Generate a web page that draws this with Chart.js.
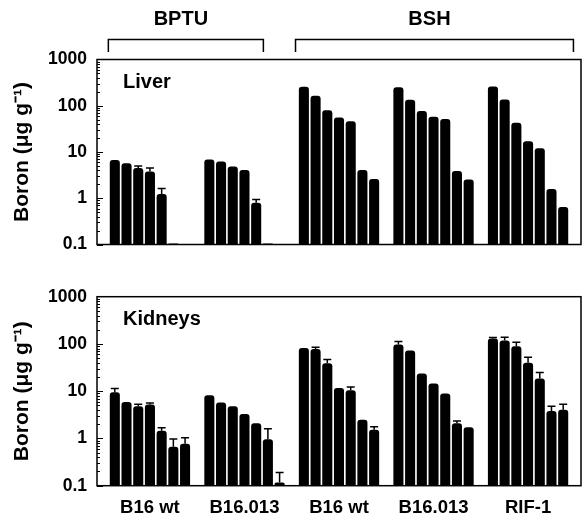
<!DOCTYPE html>
<html>
<head>
<meta charset="utf-8">
<script src="https://cdn.jsdelivr.net/npm/chart.js@4.4.1/dist/chart.umd.min.js"></script>
<style>
  html, body { margin: 0; padding: 0; background: #fff; }
  #wrap { position: relative; width: 585px; height: 516px; }
  canvas { position: absolute; left: 0; }
</style>
</head>
<body>
<div id="wrap">
  <canvas id="liver" width="585" height="265" style="top:0"></canvas>
  <canvas id="kidneys" width="585" height="251" style="top:265px"></canvas>
</div>
<script>
// groups along the x axis
const categories = ["B16 wt", "B16.013", "B16 wt", "B16.013", "RIF-1"];
const yTicks = [0.1, 1, 10, 100, 1000];

// liver, 7 bars per group (null = no bar)
const liverB16wtBPTU   = [6.7, 5.7, 4.5, 3.8, 1.24, 0.105, null];
const liverB16013BPTU  = [6.9, 6.2, 4.85, 4.1, 0.8, 0.105, null];
const liverB16wtBSH    = [257, 164, 80, 56, 46, 4.1, 2.6];
const liverB16013BSH   = [250, 135, 77, 58, 52, 3.9, 2.55];
const liverRIF1BSH     = [262, 137, 43, 17, 12.1, 1.58, 0.65];
// upper ends of the error bars
const liverErrB16wtBPTU  = [null, null, 5.0, 4.5, 1.62, null, null];
const liverErrB16013BPTU = [null, null, null, null, 0.94, null, null];
const liverErrB16wtBSH   = [null, null, null, null, null, null, null];
const liverErrB16013BSH  = [null, null, null, null, null, null, null];
const liverErrRIF1BSH    = [null, null, null, null, null, null, null];

// kidneys
const kidB16wtBPTU   = [9.5, 5.9, 4.8, 5.25, 1.46, 0.67, 0.77];
const kidB16013BPTU  = [8.2, 5.8, 4.8, 3.3, 2.1, 0.96, 0.117];
const kidB16wtBSH    = [82, 78, 39, 11.7, 10.5, 2.5, 1.53];
const kidB16013BSH   = [97, 73, 23.6, 14.5, 8.9, 2.1, 1.72];
const kidRIF1BSH     = [130, 119, 89, 40, 18.5, 3.8, 4.05];
const kidErrB16wtBPTU  = [11.4, null, 5.3, 5.6, 1.68, 0.97, 1.03];
const kidErrB16013BPTU = [null, null, null, null, null, 1.6, 0.19];
const kidErrB16wtBSH   = [null, 85, 47, null, 12.3, null, 1.76];
const kidErrB16013BSH  = [113, null, null, null, null, 2.35, null];
const kidErrRIF1BSH    = [137, 139, 109, 52, 25, 4.8, 5.3];

// treatment brackets above the top panel (in x-axis units)
const brackets = [
  { text: "BPTU", from: -0.44, to: 1.2 },
  { text: "BSH", from: 1.54, to: 4.48 }
];

const FONT = "'Liberation Sans', Arial, Helvetica, sans-serif";

function buildDatasets(groups, errs) {
  const out = [];
  for (let j = 0; j < 7; j++) {
    out.push({
      label: "bar " + (j + 1),
      data: groups.map((g, i) => ({ x: i, y: g[j] })),
      errTop: errs.map(e => e[j]),
      backgroundColor: "#000",
      borderWidth: 0,
      borderRadius: 3,
      borderSkipped: "bottom"
    });
  }
  return out;
}

const errorBars = {
  id: "errorBars",
  afterDatasetsDraw(chart) {
    const ctx = chart.ctx, y = chart.scales.y;
    ctx.save();
    ctx.strokeStyle = "#000";
    ctx.lineWidth = 1.5;
    chart.data.datasets.forEach((ds, i) => {
      chart.getDatasetMeta(i).data.forEach((bar, j) => {
        const e = ds.errTop[j];
        if (e == null || ds.data[j].y == null) return;
        const yt = y.getPixelForValue(e);
        ctx.beginPath();
        ctx.moveTo(bar.x, bar.y);
        ctx.lineTo(bar.x, yt);
        ctx.moveTo(bar.x - 4, yt);
        ctx.lineTo(bar.x + 4, yt);
        ctx.stroke();
      });
    });
    ctx.restore();
  }
};

const frame = {
  id: "frame",
  afterDatasetsDraw(chart, args, opts) {
    const { ctx, chartArea: a, scales: { x, y } } = chart;
    ctx.save();
    ctx.strokeStyle = "#000";
    ctx.lineWidth = 1.5;
    ctx.strokeRect(a.left, a.top, a.right - a.left, a.bottom - a.top);
    // log ticks on the inside of the left edge
    ctx.lineWidth = 1;
    ctx.beginPath();
    for (let t = 0; t < yTicks.length - 1; t++) {
      for (let k = 1; k < 10; k++) {
        const py = Math.round(y.getPixelForValue(yTicks[t] * k)) + 0.5;
        ctx.moveTo(a.left, py);
        ctx.lineTo(a.left + (k === 1 ? 6 : 3), py);
      }
    }
    ctx.stroke();
    // panel name
    ctx.fillStyle = "#000";
    ctx.font = "bold 20px " + FONT;
    ctx.textBaseline = "middle";
    ctx.textAlign = "left";
    ctx.fillText(opts.name, a.left + 26, a.top + 23);
    // treatment brackets
    if (opts.brackets) {
      ctx.lineWidth = 1.5;
      ctx.font = "bold 20px " + FONT;
      ctx.textAlign = "center";
      opts.brackets.forEach(b => {
        const x0 = x.getPixelForValue(b.from), x1 = x.getPixelForValue(b.to);
        ctx.beginPath();
        ctx.moveTo(x0, 52);
        ctx.lineTo(x0, 39.5);
        ctx.lineTo(x1, 39.5);
        ctx.lineTo(x1, 52);
        ctx.stroke();
        ctx.fillText(b.text, (x0 + x1) / 2 - 5, 19);
      });
    }
    ctx.restore();
  }
};

function makeChart(id, groups, errs, opts) {
  return new Chart(document.getElementById(id), {
    type: "bar",
    data: { datasets: buildDatasets(groups, errs) },
    plugins: [errorBars, frame],
    options: {
      responsive: false,
      animation: false,
      layout: { padding: opts.padding },
      categoryPercentage: 0.867,
      barPercentage: 0.86,
      plugins: {
        legend: { display: false },
        tooltip: { enabled: false },
        frame: { name: opts.name, brackets: opts.brackets }
      },
      scales: {
        x: {
          type: "linear",
          min: -0.56,
          max: 4.56,
          offset: false,
          grid: { display: false, drawTicks: false, offset: false },
          border: { display: false },
          afterBuildTicks: s => { s.ticks = categories.map((c, i) => ({ value: i })); },
          afterFit: s => { s.height = opts.xHeight; },
          ticks: {
            display: opts.showX,
            autoSkip: false,
            maxRotation: 0,
            padding: 11,
            color: "#000",
            font: { family: FONT, size: 18.5, weight: "bold" },
            callback: v => categories[v]
          }
        },
        y: {
          type: "logarithmic",
          min: 0.1,
          max: 1000,
          grid: { display: false, drawTicks: false },
          border: { display: false },
          afterBuildTicks: s => { s.ticks = yTicks.map(v => ({ value: v })); },
          afterFit: s => { s.width = 97; },
          ticks: {
            padding: 10,
            color: "#000",
            font: { family: FONT, size: 17.5, weight: "bold" },
            callback: v => String(v)
          },
          title: {
            display: true,
            text: "Boron (\u03bcg g\u207b\u00b9)",
            color: "#000",
            font: { family: FONT, size: 21, weight: "bold" },
            padding: { top: 10, bottom: 0 }
          }
        }
      }
    }
  });
}

makeChart("liver",
  [liverB16wtBPTU, liverB16013BPTU, liverB16wtBSH, liverB16013BSH, liverRIF1BSH],
  [liverErrB16wtBPTU, liverErrB16013BPTU, liverErrB16wtBSH, liverErrB16013BSH, liverErrRIF1BSH],
  { name: "Liver", brackets: brackets, showX: false, xHeight: 0,
    padding: { top: 59.5, right: 4, bottom: 14.5, left: 0 } });

makeChart("kidneys",
  [kidB16wtBPTU, kidB16013BPTU, kidB16wtBSH, kidB16013BSH, kidRIF1BSH],
  [kidErrB16wtBPTU, kidErrB16013BPTU, kidErrB16wtBSH, kidErrB16013BSH, kidErrRIF1BSH],
  { name: "Kidneys", brackets: null, showX: true, xHeight: 30.3,
    padding: { top: 31.7, right: 4, bottom: 0, left: 0 } });
</script>
</body>
</html>
